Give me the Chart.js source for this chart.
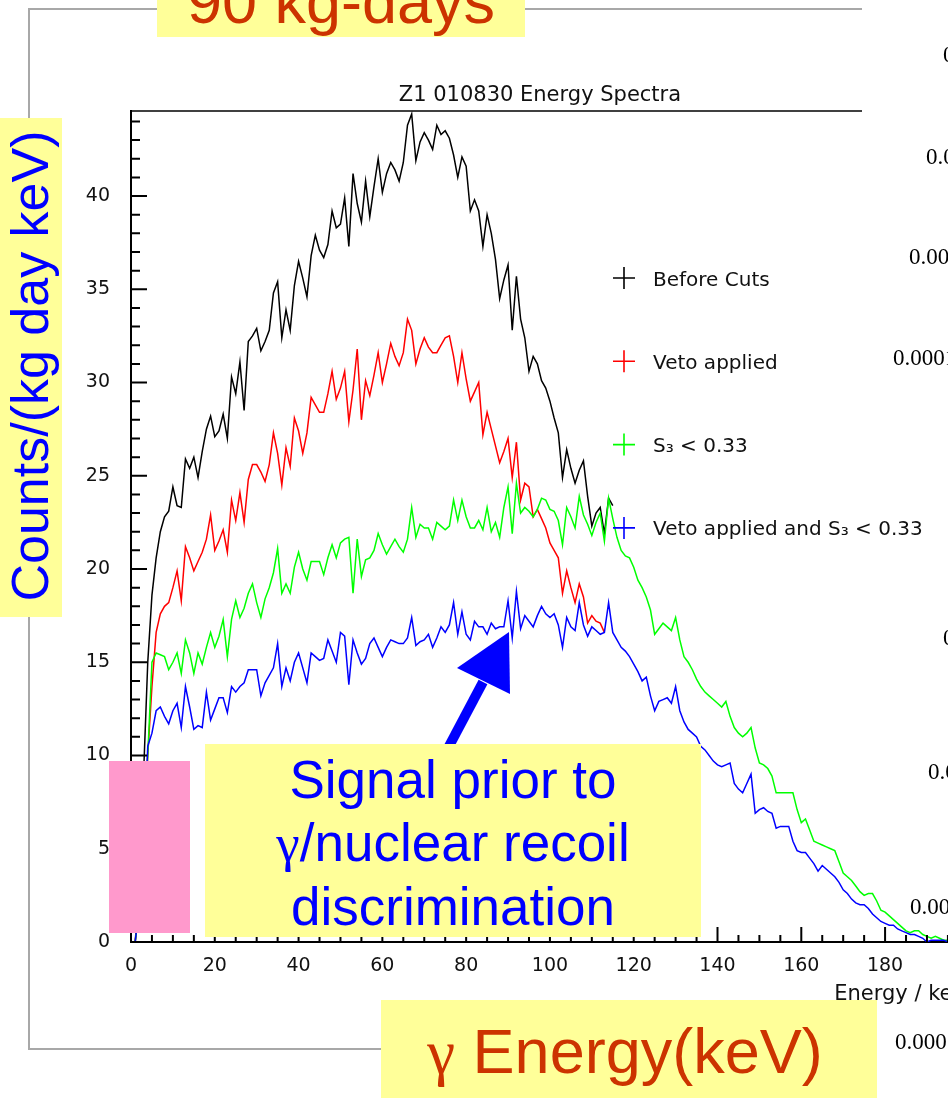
<!DOCTYPE html>
<html lang="en">
<head>
    <meta charset="UTF-8">
    <title>Z1 010830 Energy Spectra</title>
    <style>
        body {
            margin: 0;
            width: 948px;
            height: 1098px;
            overflow: hidden;
            background: #fff;
            position: relative;
        }

        .frame {
            position: absolute;
            left: 28px;
            top: 8px;
            width: 834px;
            height: 1038px;
            border-top: 2px solid #a8a8a8;
            border-left: 2px solid #a8a8a8;
            border-bottom: 2px solid #a8a8a8;
        }

        .plot {
            position: absolute;
            left: 0;
            top: 0;
            width: 1000px;
            height: 1098px;
        }

        .cover {
            position: absolute;
            left: 862px;
            top: 0;
            width: 100px;
            height: 125px;
            background: #fff;
        }

        .side-label {
            position: absolute;
            font-family: "Liberation Serif", serif;
            font-size: 23px;
            line-height: 22px;
            color: #000;
            white-space: nowrap;
        }

        .note {
            position: absolute;
            background: #ffff99;
            font-family: "Liberation Sans", Arial, sans-serif;
            text-align: center;
            white-space: nowrap;
            overflow: hidden;
        }

        .greek {
            font-family: "Liberation Serif", serif;
        }

        #exposure {
            left: 157px;
            top: 0;
            width: 368px;
            height: 37px;
            color: #cc3300;
        }

        #exposure span {
            position: absolute;
            left: 0;
            right: 0;
            top: -30px;
            font-size: 63px;
            line-height: 62px;
        }

        #yTitle {
            left: 0;
            top: 118px;
            width: 62px;
            height: 499px;
            overflow: visible;
        }

        #yTitle span {
            position: absolute;
            left: -220px;
            top: 223px;
            width: 500px;
            font-size: 52px;
            line-height: 50px;
            color: #0000ff;
            transform: rotate(-90deg);
        }

        #signal {
            left: 205px;
            top: 744px;
            width: 496px;
            height: 193px;
            color: #0000ff;
            font-size: 53px;
            line-height: 63px;
            padding-top: 4px;
            box-sizing: border-box;
        }

        #energy {
            left: 381px;
            top: 1000px;
            width: 496px;
            height: 98px;
            color: #cc3300;
            font-size: 63px;
            line-height: 98px;
            padding-top: 2px;
            box-sizing: border-box;
            text-indent: -8px;
        }

        #lowCut {
            position: absolute;
            left: 109px;
            top: 761px;
            width: 81px;
            height: 172px;
            background: #ff99cc;
        }

        #arrow {
            position: absolute;
            left: 0;
            top: 0;
        }
    </style>
    <script src="https://cdn.jsdelivr.net/npm/chart.js"></script>
</head>
<body>
    <div class="frame"></div>

    <div class="plot">
        <canvas id="spectra" width="1000" height="1098"></canvas>
    </div>

    <div class="cover"></div>

    <!-- neighbouring panel's axis labels -->
    <div class="side-label" style="left:943px; top:44px;">0.1</div>
    <div class="side-label" style="left:926px; top:146px;">0.01</div>
    <div class="side-label" style="left:909px; top:246px;">0.001</div>
    <div class="side-label" style="left:893px; top:347px;">0.0001</div>
    <div class="side-label" style="left:943px; top:627px;">0.1</div>
    <div class="side-label" style="left:928px; top:761px;">0.01</div>
    <div class="side-label" style="left:910px; top:896px;">0.001</div>
    <div class="side-label" style="left:895px; top:1031px;">0.0001</div>

    <div class="note" id="exposure"><span>90 kg-days</span></div>
    <div class="note" id="yTitle"><span>Counts/(kg day keV)</span></div>

    <svg id="arrow" width="948" height="1098">
        <polygon fill="#0000ff" points="442.6,747.7 451.4,752.3 487.4,684.3 478.6,679.7"/>
        <polygon fill="#0000ff" points="457,668 509,632 510,694"/>
    </svg>

    <div id="lowCut"></div>
    <div class="note" id="signal">Signal prior to<br><span class="greek">γ</span>/nuclear recoil<br>discrimination</div>
    <div class="note" id="energy"><span class="greek">γ</span> Energy(keV)</div>

    <script>
        // 1 keV bins starting at 0 keV
        const BIN_START = 0;
        const BIN_WIDTH = 1;

        const xTicks = [0, 20, 40, 60, 80, 100, 120, 140, 160, 180, 200];
        const yTicks = [0, 5, 10, 15, 20, 25, 30, 35, 40];

        const seriesNames = ['Before Cuts', 'Veto applied', 'S\u2083 < 0.33', 'Veto applied and S\u2083 < 0.33'];
        const seriesColors = ['#000000', '#ff0000', '#00ff00', '#0000ff'];

        const beforeCuts = [
            0, 0, 3, 9, 15, 18.6, 20.6, 22, 22.8, 23.1,
            24.4, 23.4, 23.3, 25.9, 25.4, 26, 24.9, 26.3, 27.5, 28.2,
            27.1, 27.4, 28.3, 27, 30.3, 29.4, 31.1, 28.5, 32.2, 32.5,
            32.9, 31.7, 32.2, 32.8, 34.8, 35.4, 32.4, 33.9, 32.8, 35.2,
            36.5, 35.6, 34.6, 36.8, 37.9, 37.1, 36.7, 37.4, 39.2, 38.3,
            38.5, 39.9, 37.3, 41.2, 39.6, 38.6, 40.8, 38.9, 40.5, 42,
            40.2, 41.2, 41.8, 41.4, 40.8, 41.8, 43.8, 44.4, 41.9, 42.9,
            43.4, 43, 42.5, 43.8, 43.3, 43.5, 43.1, 42.2, 41, 42.1,
            41.6, 39.2, 39.8, 39.2, 37.3, 39, 38, 36.6, 34.5, 35.5,
            36.3, 32.8, 35.7, 33.4, 32.4, 30.6, 31.4, 31, 30.1, 29.7,
            29, 28.1, 27.3, 24.9, 26.4, 25.4, 24.6, 25.3, 25.8, 23.9,
            22.3, 23, 23.3, 21.9, 23.8, 23.4
        ];

        const vetoApplied = [
            0, 0, 2, 6, 10, 13.7, 16.6, 17.6, 18, 18.2,
            19, 19.9, 18.3, 21.2, 20.6, 19.9, 20.4, 20.9, 21.6, 22.9,
            21, 21.5, 22.1, 20.9, 23.7, 22.6, 24.1, 22.5, 24.8, 25.6,
            25.6, 25.2, 24.7, 25.6, 27.3, 26.2, 24.5, 26.5, 25.5, 28.1,
            27.4, 26.2, 27.3, 29.2, 28.8, 28.4, 28.4, 29.4, 30.6, 29.1,
            29.7, 30.6, 27.9, 29.6, 31.8, 28, 30.1, 29.3, 30.4, 31.6,
            30, 31, 32.1, 31.4, 30.9, 31.6, 33.4, 32.8, 31, 31.8,
            32.4, 31.9, 31.6, 31.6, 32, 32.4, 32.5, 31.4, 30, 31.6,
            30.2, 29, 29.5, 30, 27.2, 28.4, 27.5, 26.6, 25.7, 26.3,
            27, 24.9, 26.8, 23.7, 24.6, 24.4, 22.8, 23.2, 22.7, 22.2,
            21.4, 21, 20.6, 18.7, 19.9, 19, 18.2, 19.2, 18.5, 17.1,
            17.5, 17.2, 17.1, 16.6
        ];

        const s3Cut = [
            0, 0, 2, 6, 10, 15, 15.5, 15.4, 15.3, 14.6,
            15, 15.5, 14.4, 16.2, 15.5, 14.4, 15.5, 14.9, 15.8, 16.6,
            15.8, 16.4, 17.3, 15.3, 17.3, 18.3, 17.4, 17.9, 18.7, 19.2,
            18.2, 17.4, 18.4, 19, 19.8, 21.1, 18.7, 19.2, 18.7, 20.1,
            20.9, 20, 19.4, 20.4, 20.4, 20.4, 19.7, 20.6, 21.3, 20.6,
            21.4, 21.6, 21.7, 18.7, 21.6, 19.6, 20.5, 20.6, 21, 21.9,
            21.3, 20.8, 21.2, 21.6, 21.2, 20.9, 21.6, 23.3, 21.7, 22.4,
            22.2, 22.2, 21.6, 22.5, 22.3, 22.1, 22.3, 23.7, 22.6, 23.7,
            22.8, 22.2, 22.2, 22.6, 22.1, 23.3, 22, 22.5, 21.7, 23.3,
            24.4, 21.9, 24.6, 23, 23.3, 23.1, 22.8, 23.2, 23.8, 23.7,
            23.2, 23.1, 22.6, 21.3, 23.3, 22.8, 22.2, 23.9, 22.9, 22.4,
            21.8, 22.5, 23, 21.5, 23.8, 22.7, 21.7, 21, 20.7, 20.6,
            20.1, 19.4, 19, 18.5, 17.8, 16.5, 16.8, 17.1, 16.9, 16.7,
            17.4, 16.2, 15.3, 15, 14.6, 14.1, 13.7, 13.4, 13.2, 13,
            12.8, 12.6, 12.9, 12.1, 11.5, 11.2, 11, 11.2, 11.5, 10.4,
            9.6, 9.5, 9.3, 8.9, 8, 8, 8, 8, 8, 7.1,
            6.4, 6.6, 6, 5.4, 5.3, 5.2, 5.1, 5, 4.9, 4.3,
            3.7, 3.5, 3.3, 3, 2.7, 2.5, 2.6, 2.6, 2.2, 1.7,
            1.6, 1.4, 1.2, 1, 0.8, 0.6, 0.5, 0.6, 0.6, 0.4,
            0.3, 0.2, 0.3, 0.2, 0.1, 0.1, 0.1, 0.1, 0, 0, 0
        ];

        const vetoAndS3 = [
            0, 0, 2, 5, 10.5, 11.2, 12.4, 12.6, 12.1, 11.7,
            12.4, 12.8, 11.5, 13.7, 12.6, 11.4, 11.6, 11.5, 13.4, 11.9,
            12.5, 13.1, 13.1, 12.3, 13.7, 13.4, 13.7, 13.9, 14.6, 14.6,
            14.6, 13.2, 13.9, 14.3, 14.7, 16, 13.7, 14.7, 14, 15,
            15.5, 14.7, 13.9, 15.5, 15.3, 15.1, 15.2, 16.2, 15.6, 15,
            16.6, 16.4, 13.8, 16.2, 15.5, 14.9, 15.2, 16, 16.3, 15.8,
            15.3, 15.8, 16.2, 16.1, 16, 16, 16.3, 17.4, 15.9, 16.1,
            16.2, 16.5, 15.8, 16.3, 16.9, 16.6, 17, 18.2, 16.5, 17.7,
            16.5, 16.2, 17.2, 16.9, 16.9, 16.5, 17.1, 16.8, 16.9, 16.9,
            18.3, 16.3, 18.8, 16.8, 17.5, 17.2, 16.9, 17.5, 18, 17.6,
            17.4, 17.6, 17, 15.8, 17.4, 16.9, 16.7, 18.2, 17, 16.4,
            16.9, 16.7, 16.5, 16.6, 18.2, 16.6, 16.2, 15.8, 15.6, 15.3,
            14.9, 14.5, 14, 14.2, 13.2, 12.4, 12.9, 13, 13.1, 12.8,
            13.7, 12.4, 11.8, 11.4, 11.2, 11, 10.5, 10.3, 10, 9.7,
            9.5, 9.4, 9.5, 9.6, 8.5, 8.2, 8, 8.5, 9, 6.9,
            7.1, 7.2, 7, 6.9, 6.1, 6.2, 6.2, 6.2, 5.4, 4.9,
            4.8, 4.8, 4.5, 4.2, 3.8, 4.1, 3.9, 3.7, 3.5, 3.2,
            2.8, 2.6, 2.3, 2.1, 2, 2, 1.8, 1.5, 1.3, 1.1,
            1, 0.9, 0.9, 0.7, 0.6, 0.5, 0.4, 0.4, 0.3, 0.2,
            0, 0.1, 0.1, 0.1, 0.1, 0, 0, 0, 0, 0, 0
        ];

        const Y_MAX = 44.56;
        const ROOT_FONT = '"DejaVu Sans", sans-serif';

        function toPoints(values) {
            return values.map((v, i) => ({ x: BIN_START + i * BIN_WIDTH, y: v }));
        }

        // ROOT style frame: inward ticks, closed top edge, title, legend and x label
        const rootFrame = {
            id: 'rootFrame',
            afterDatasetsDraw(chart) {
                const { ctx, chartArea } = chart;
                const xs = chart.scales.x;
                const ys = chart.scales.y;
                ctx.save();
                ctx.strokeStyle = '#000';
                ctx.lineWidth = 1.5;
                ctx.beginPath();
                ctx.moveTo(chartArea.left, chartArea.top);
                ctx.lineTo(chartArea.right, chartArea.top);
                ctx.stroke();

                ctx.lineWidth = 2;
                ctx.beginPath();
                for (let v = xs.min; v <= xs.max; v += 5) {
                    const px = xs.getPixelForValue(v);
                    const len = v % 20 === 0 ? 15 : 7;
                    ctx.moveTo(px, chartArea.bottom);
                    ctx.lineTo(px, chartArea.bottom - len);
                }
                for (let v = 0; v <= Math.floor(ys.max); v += 1) {
                    const py = ys.getPixelForValue(v);
                    const len = v % 5 === 0 ? 16 : 9;
                    ctx.moveTo(chartArea.left, py);
                    ctx.lineTo(chartArea.left + len, py);
                }
                ctx.stroke();
                ctx.restore();
            },
            afterDraw(chart) {
                const { ctx, chartArea } = chart;
                ctx.save();
                ctx.fillStyle = '#111';
                ctx.textAlign = 'center';
                ctx.textBaseline = 'alphabetic';
                ctx.font = '21px ' + ROOT_FONT;
                ctx.fillText('Z1 010830 Energy Spectra', (chartArea.left + chartArea.right) / 2 - 10, 101);

                // legend entries down the right half of the frame
                ctx.font = '20px ' + ROOT_FONT;
                ctx.textAlign = 'left';
                chart.data.datasets.forEach((ds, i) => {
                    const cy = 278 + i * 83.3;
                    const cx = 624;
                    ctx.strokeStyle = ds.borderColor;
                    ctx.lineWidth = 1.6;
                    ctx.beginPath();
                    ctx.moveTo(cx - 11, cy);
                    ctx.lineTo(cx + 11, cy);
                    ctx.moveTo(cx, cy - 11);
                    ctx.lineTo(cx, cy + 11);
                    ctx.stroke();
                    ctx.fillStyle = '#111';
                    ctx.fillText(ds.label, cx + 29, cy + 7.5);
                });

                ctx.textAlign = 'right';
                ctx.font = '21px ' + ROOT_FONT;
                ctx.fillText('Energy / keV', chartArea.right - 2, 1000);
                ctx.restore();
            }
        };

        const seriesData = [beforeCuts, vetoApplied, s3Cut, vetoAndS3];

        new Chart(document.getElementById('spectra'), {
            type: 'line',
            data: {
                datasets: seriesData.map((values, i) => ({
                    label: seriesNames[i],
                    data: toPoints(values),
                    borderColor: seriesColors[i],
                    borderWidth: 1.5,
                    pointRadius: 0,
                    tension: 0,
                    fill: false,
                    order: seriesData.length - 1 - i
                }))
            },
            options: {
                responsive: false,
                animation: false,
                devicePixelRatio: 1,
                layout: {
                    padding: { left: 0, top: 111, right: 29, bottom: 0 }
                },
                scales: {
                    x: {
                        type: 'linear',
                        min: xTicks[0],
                        max: xTicks[xTicks.length - 1],
                        afterBuildTicks: scale => {
                            scale.ticks = xTicks.map(v => ({ value: v }));
                        },
                        afterFit: scale => { scale.height = 156; },
                        ticks: {
                            font: { family: ROOT_FONT, size: 19 },
                            color: '#111',
                            padding: 13,
                            maxRotation: 0,
                            autoSkip: false
                        },
                        grid: { display: false, drawTicks: false },
                        border: { display: true, color: '#000', width: 2 }
                    },
                    y: {
                        min: 0,
                        max: Y_MAX,
                        afterBuildTicks: scale => {
                            scale.ticks = yTicks.map(v => ({ value: v }));
                        },
                        afterFit: scale => { scale.width = 131; },
                        ticks: {
                            font: { family: ROOT_FONT, size: 19 },
                            color: '#111',
                            padding: 21
                        },
                        grid: { display: false, drawTicks: false },
                        border: { display: true, color: '#000', width: 2 }
                    }
                },
                plugins: {
                    legend: { display: false },
                    title: { display: false },
                    tooltip: { enabled: false }
                }
            },
            plugins: [rootFrame]
        });
    </script>
</body>
</html>
